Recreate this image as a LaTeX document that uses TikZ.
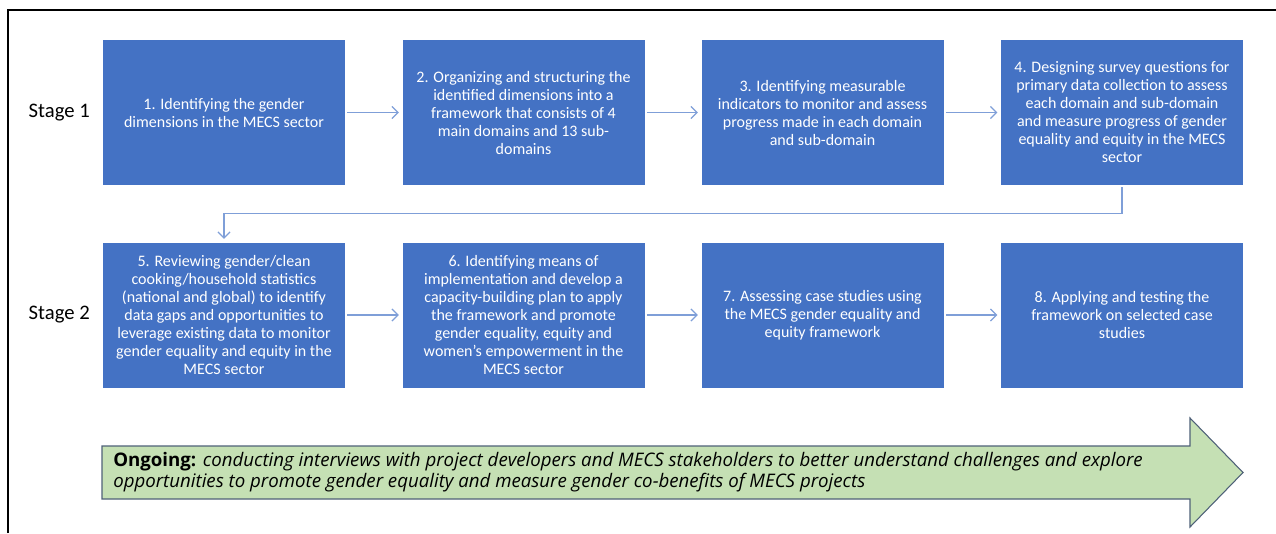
\documentclass[tikz,border=0pt]{standalone}
\usepackage{fontspec}
\setmainfont{Carlito}
\newfontfamily\ongoingfont{Open Sans}
\usetikzlibrary{arrows.meta}
\definecolor{boxblue}{HTML}{4472C4}
\definecolor{linkblue}{HTML}{7F9FD8}
\definecolor{ongoinggreen}{HTML}{C5E0B4}
\definecolor{ongoingedge}{HTML}{4F6178}

\begin{document}
\begin{tikzpicture}[x=0.75pt, y=-0.75pt,
	stagebox/.style={rectangle, fill=boxblue, text=white, minimum width=181.5pt, minimum height=108.75pt, align=center, inner sep=0pt, font=\fontsize{12}{13.5}\selectfont},
	stagelabel/.style={anchor=west, font=\fontsize{15.5}{18}\selectfont},
	link/.style={draw=linkblue, line width=1pt, -{Straight Barb[length=4.5pt, width=9pt]}, shorten <=1.5pt, shorten >=2.5pt}]
			\useasboundingbox (0,0) rectangle (1276,533);
			\draw[line width=1.5pt] (8,533) -- (8,10) -- (1276,10);
			\node[stagelabel] (L1)at(24, 112.5) {Stage 1};
			\node[stagelabel] (L2)at(24, 315) {Stage 2};
			\node[stagebox] (S1)at(224, 112.5) {1. Identifying the gender\\dimensions in the MECS sector};
			\node[stagebox] (S2)at(523.5, 112.5) {2. Organizing and structuring the\\identified dimensions into a\\framework that consists of 4\\main domains and 13 sub-\\domains};
			\node[stagebox] (S3)at(822.5, 112.5) {3. Identifying measurable\\indicators to monitor and assess\\progress made in each domain\\and sub-domain};
			\node[stagebox] (S4)at(1122, 112.5) {4. Designing survey questions for\\primary data collection to assess\\each domain and sub-domain\\and measure progress of gender\\equality and equity in the MECS\\sector};
			\node[stagebox] (S5)at(224, 315) {5. Reviewing gender/clean\\cooking/household statistics\\(national and global) to identify\\data gaps and opportunities to\\leverage existing data to monitor\\gender equality and equity in the\\MECS sector};
			\node[stagebox] (S6)at(523.5, 315) {6. Identifying means of\\implementation and develop a\\capacity-building plan to apply\\the framework and promote\\gender equality, equity and\\women’s empowerment in the\\MECS sector};
			\node[stagebox] (S7)at(822.5, 315) {7. Assessing case studies using\\the MECS gender equality and\\equity framework};
			\node[stagebox] (S8)at(1122, 315) {8. Applying and testing the\\framework on selected case\\studies};
			\draw[link] (S1) -- (S2);
			\draw[link] (S2) -- (S3);
			\draw[link] (S3) -- (S4);
			\draw[link] (S4.south) -- ++(0,28) -| (S5.north);
			\draw[link] (S5) -- (S6);
			\draw[link] (S6) -- (S7);
			\draw[link] (S7) -- (S8);
			\draw[fill=ongoinggreen, draw=ongoingedge, line width=0.8pt] (102,446) -- (1190,446) -- (1190,418) -- (1243,472.5) -- (1190,527) -- (1190,499) -- (102,499) -- cycle;
			\node[anchor=west, align=left, inner sep=0pt, font=\ongoingfont\fontsize{14}{15.75}\selectfont] (ON)at(113, 472.5) {\textbf{Ongoing:} \textit{conducting interviews with project developers and MECS stakeholders to better understand challenges and explore}\\\textit{opportunities to promote gender equality and measure gender co-benefits of MECS projects}};
		\end{tikzpicture}
\end{document}
